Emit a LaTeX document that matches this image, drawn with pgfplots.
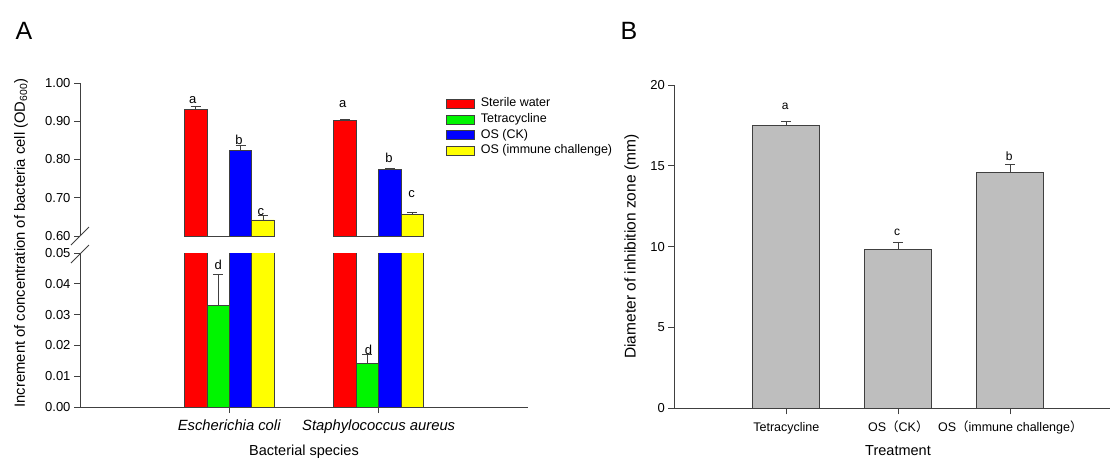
\documentclass[border=0pt]{standalone}
\usepackage{pgfplots}
\pgfplotsset{compat=1.18}
\usepackage{pgfplotstable}
\usepackage{fontspec}
\setmainfont{Liberation Sans}
\newfontfamily\cjk{Noto Sans CJK SC}
\definecolor{axisgray}{RGB}{64,64,64}
\definecolor{bargray}{RGB}{190,190,190}
\definecolor{cred}{RGB}{255,0,0}
\definecolor{cgreen}{RGB}{0,245,0}
\definecolor{cblue}{RGB}{0,0,255}
\definecolor{cyellow}{RGB}{255,255,0}

\pgfplotstableread{
x red redE green greenE blue blueE yellow yellowE
1 0.932 0.007 0.033 0.010 0.824 0.012 0.642 0.011
2 0.902 0.003 0.014 0.003 0.774 0.004 0.657 0.006
}\dataA

\pgfplotstableread{
x val err
1 17.52 0.23
2 9.83 0.41
3 14.57 0.50
}\dataB

\pgfplotsset{
  mystyle/.style={
    scale only axis,
    enlargelimits=false,
    axis line style={draw=axisgray, line width=1pt},
    tick style={draw=axisgray, line width=1pt},
    major tick length=6pt,
    tick align=outside,
    ticklabel style={font=\fontsize{13}{15}\selectfont},
    /pgf/number format/assume math mode=true,
  },
  twodec/.style={
    scaled y ticks=false,
    yticklabel style={/pgf/number format/fixed, /pgf/number format/fixed zerofill, /pgf/number format/precision=2},
  },
  barA/.style={draw=axisgray, line width=0.8pt, fill=#1,
    error bars/.cd, y dir=plus, y explicit,
    error bar style={draw=axisgray, line width=0.8pt},
    error mark options={rotate=90, mark size=5pt, draw=axisgray, line width=0.8pt}},
}

\begin{document}
\begin{tikzpicture}

% ---------- Panel A upper ----------
\begin{axis}[mystyle, twodec,
  at={(80pt,-236pt)}, anchor=south west,
  width=448pt, height=153pt,
  xmin=0, xmax=3, ymin=0.6, ymax=1.0,
  axis y line*=left, axis x line=none,
  ytick={0.6,0.7,0.8,0.9,1.0},
  ybar=0pt, bar width=22.4pt,
  legend style={at={(0.81,0.93)}, anchor=north west, draw=none, fill=none,
    font=\fontsize{12.5}{14}\selectfont, row sep=0pt,
    nodes={inner ysep=1.85pt, text height=9pt, text depth=3pt},
    /tikz/every odd column/.style={column sep=4pt}},
  legend cell align=left,
  legend image code/.code={\draw[#1] (0pt,-4.5pt) rectangle (28pt,4.5pt);},
]
\addplot[barA=cred] table[x=x, y=red, y error=redE] {\dataA};
\addlegendentry{Sterile water}
\addplot[barA=cgreen] table[x=x, y=green, y error=greenE] {\dataA};
\addlegendentry{Tetracycline}
\addplot[barA=cblue] table[x=x, y=blue, y error=blueE] {\dataA};
\addlegendentry{OS (CK)}
\addplot[barA=cyellow] table[x=x, y=yellow, y error=yellowE] {\dataA};
\addlegendentry{OS (immune challenge)}
\begin{scope}[font=\fontsize{13}{15}\selectfont]
\node at (axis cs:0.755,0.955) {a};
\node at (axis cs:1.065,0.851) {b};
\node at (axis cs:1.212,0.663) {c};
\node at (axis cs:1.759,0.944) {a};
\node at (axis cs:2.069,0.804) {b};
\node at (axis cs:2.221,0.710) {c};
\end{scope}
\end{axis}

% ---------- Panel A lower ----------
\begin{axis}[mystyle, twodec,
  at={(80pt,-407pt)}, anchor=south west,
  width=448pt, height=154pt,
  xmin=0, xmax=3, ymin=0, ymax=0.05,
  axis lines*=left,
  ytick={0,0.01,0.02,0.03,0.04,0.05},
  xtick={1,2},
  xticklabels={\textit{Escherichia coli},\textit{Staphylococcus aureus}},
  xticklabel style={font=\fontsize{14.8}{16}\selectfont, yshift=-3pt},
  ybar=0pt, bar width=22.4pt,
]
\addplot[barA=cred] table[x=x, y=red, y error=redE] {\dataA};
\addplot[barA=cgreen] table[x=x, y=green, y error=greenE] {\dataA};
\addplot[barA=cblue] table[x=x, y=blue, y error=blueE] {\dataA};
\addplot[barA=cyellow] table[x=x, y=yellow, y error=yellowE] {\dataA};
\begin{scope}[font=\fontsize{13}{15}\selectfont]
\node at (axis cs:0.926,0.0461) {d};
\node at (axis cs:1.931,0.0185) {d};
\end{scope}
\end{axis}

% ---------- Panel B ----------
\begin{axis}[mystyle,
  at={(674.3pt,-408.3pt)}, anchor=south west,
  width=435.7pt, height=323.3pt,
  xmin=0, xmax=3.89, ymin=0, ymax=20,
  axis lines*=left,
  ytick={0,5,10,15,20},
  xtick={1,2,3},
  xticklabels={Tetracycline, OS{\cjk （}CK{\cjk ）}, OS{\cjk （}immune challenge{\cjk ）}},
  xticklabel style={font=\fontsize{12.5}{14}\selectfont, yshift=-4pt, text height=9.5pt, text depth=3pt},
  ybar=0pt, bar width=67pt,
]
\addplot[barA=bargray] table[x=x, y=val, y error=err] {\dataB};
\begin{scope}[font=\fontsize{12}{14}\selectfont]
\node at (axis cs:0.99,18.66) {a};
\node at (axis cs:1.99,10.88) {c};
\node at (axis cs:2.99,15.62) {b};
\end{scope}
\end{axis}

% break marks
\draw[axisgray, line width=1pt] (71pt,-245pt) -- (89pt,-227pt);
\draw[axisgray, line width=1pt] (71pt,-263pt) -- (89pt,-245pt);

\node[rotate=90, font=\fontsize{14.8}{16}\selectfont] at (21pt,-243pt)
  {Increment of concentration of bacteria cell (OD\textsubscript{600})};
\node[anchor=base, font=\fontsize{14.5}{16}\selectfont] at (304pt,-455pt) {Bacterial species};
\node[font=\fontsize{25}{28}\selectfont] at (24pt,-31pt) {A};

\node[rotate=90, font=\fontsize{15.5}{17}\selectfont] at (631.7pt,-246.7pt) {Diameter of inhibition zone (mm)};
\node[anchor=base, font=\fontsize{14.5}{16}\selectfont] at (898pt,-455pt) {Treatment};
\node[font=\fontsize{25}{28}\selectfont] at (629pt,-31pt) {B};

\pgfresetboundingbox
\useasboundingbox (0pt,0pt) rectangle (1110pt,-459pt);
\end{tikzpicture}
\end{document}
